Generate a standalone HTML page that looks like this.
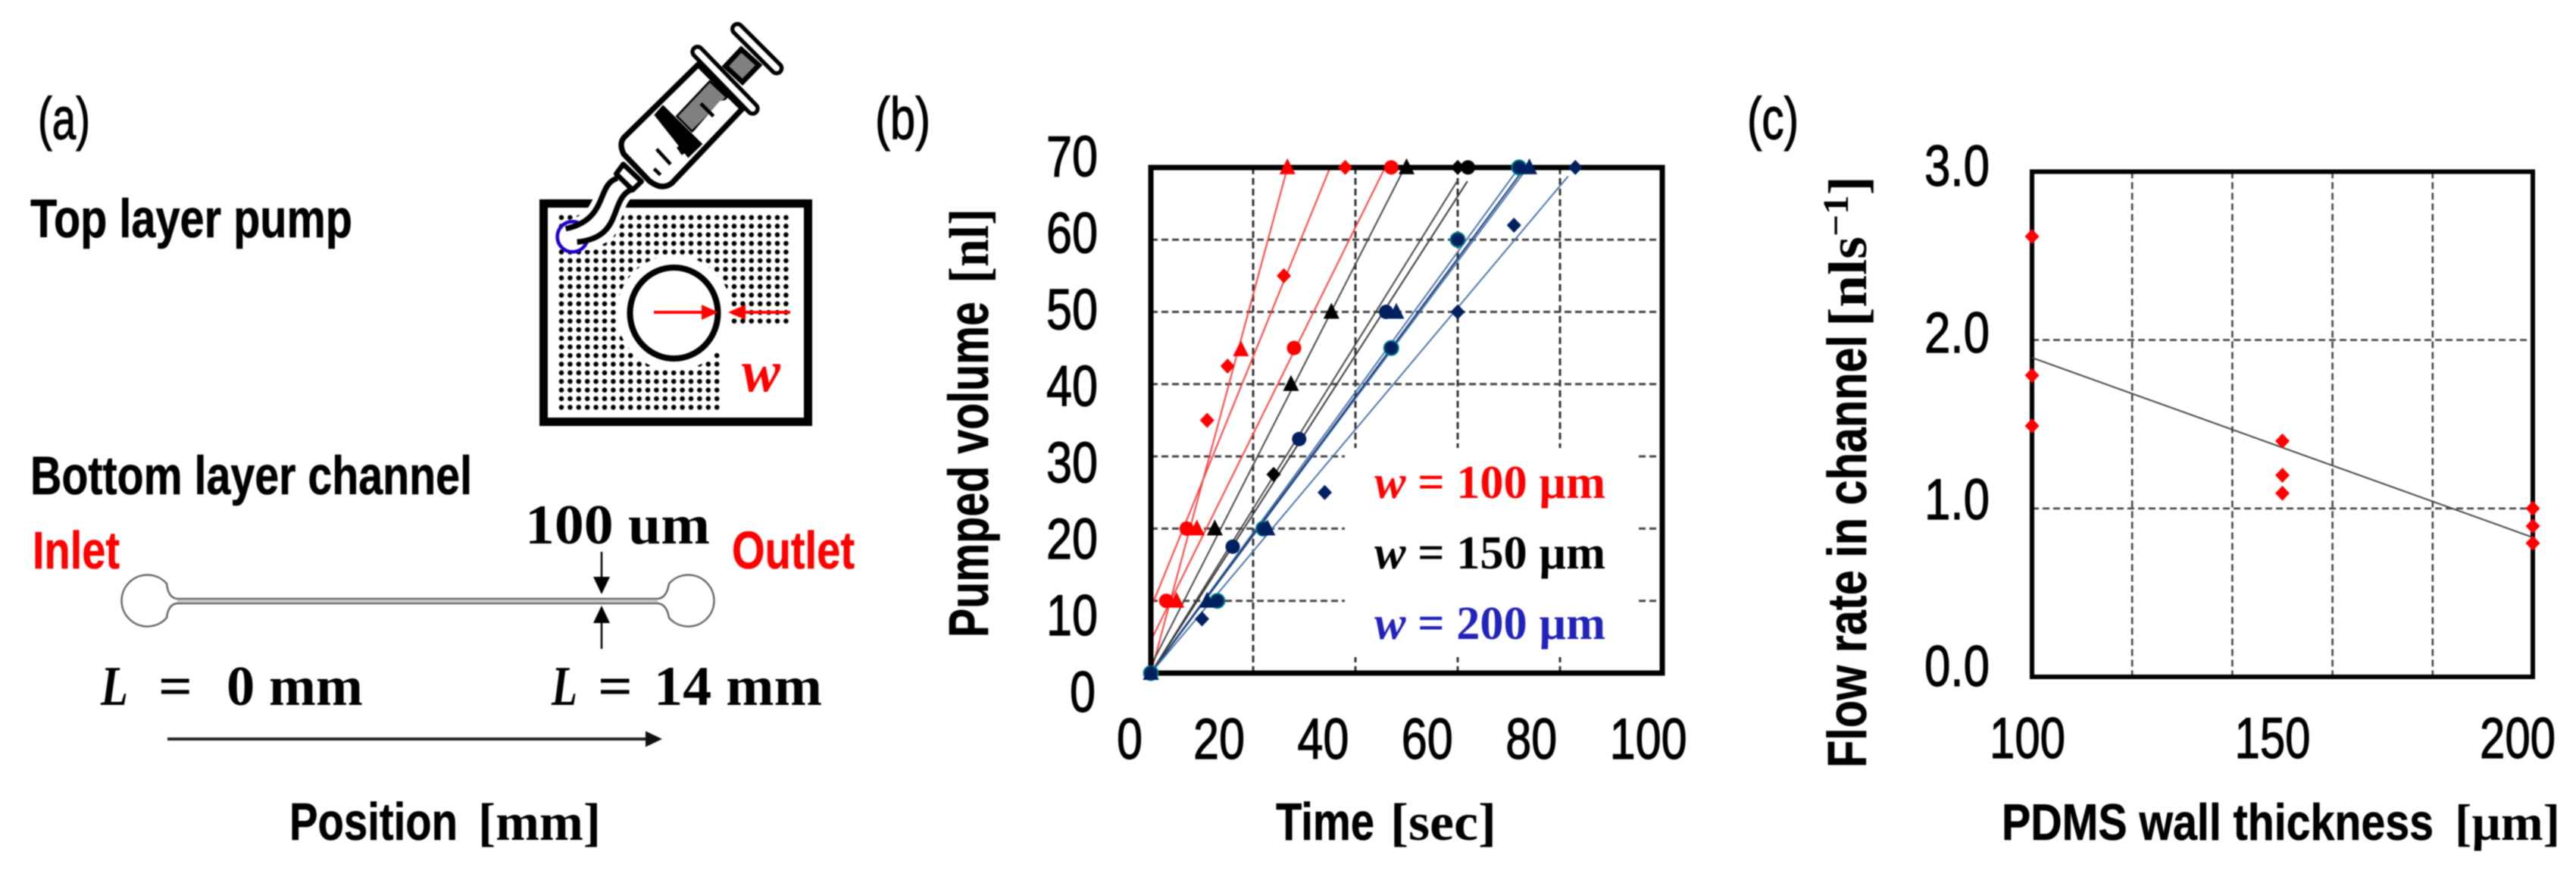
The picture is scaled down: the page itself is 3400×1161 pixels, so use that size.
<!DOCTYPE html>
<html lang="en">
<head>
<meta charset="utf-8">
<title>PDMS pump figure</title>
<style>
html,body{margin:0;padding:0;background:#fff;width:3400px;height:1161px;overflow:hidden}
svg{display:block;filter:blur(0.9px)}
.sb{font-family:"Liberation Sans",sans-serif;font-weight:bold;stroke:currentColor;stroke-width:.6}
.sn{font-family:"Liberation Sans",sans-serif;stroke:#000;stroke-width:1.2}
.rb{font-family:"Liberation Serif",serif;font-weight:bold}
.ri{font-family:"Liberation Serif",serif;font-weight:bold;font-style:italic}
</style>
</head>
<body>
<svg id="fig" xmlns="http://www.w3.org/2000/svg" width="3400" height="1161" viewBox="0 0 3400 1161">
<defs>
<pattern id="dots" patternUnits="userSpaceOnUse" x="735.3" y="281.3" width="11.4" height="11.38">
<circle cx="5.7" cy="5.7" r="3.3" fill="#000"/>
</pattern>
</defs>
<rect width="3400" height="1161" fill="#fff"/>

<!-- PANEL A -->
<g>
<text class="sn" x="50" y="183" font-size="78" textLength="69" lengthAdjust="spacingAndGlyphs">(a)</text>
<text class="sb" x="40" y="313" font-size="71" textLength="425" lengthAdjust="spacingAndGlyphs">Top layer pump</text>

<g>
<rect x="735" y="281" width="308" height="263" fill="url(#dots)"/>
<circle cx="890" cy="413" r="76" fill="#fff"/>
<rect x="951" y="431" width="95" height="115" fill="#fff"/>
<rect x="717.5" y="268.5" width="349" height="288" fill="none" stroke="#000" stroke-width="11"/>
<ellipse cx="889.5" cy="413" rx="58" ry="60" fill="#fff" stroke="#000" stroke-width="8"/>
<line x1="863" y1="412" x2="930" y2="412" stroke="#ff0000" stroke-width="4"/>
<polygon points="948,412 926,402 926,422" fill="#ff0000"/>
<line x1="980" y1="412" x2="1043" y2="412" stroke="#ff0000" stroke-width="4"/>
<polygon points="961,412 984,402 984,422" fill="#ff0000"/>
<text class="ri" x="979" y="516" font-size="78" fill="#ff0000" textLength="51" lengthAdjust="spacingAndGlyphs">w</text>
</g>

<g transform="translate(700,0) scale(0.33333)">
<polygon points="190,880 362,880 322,950 235,990 170,990" fill="#fff"/>
<path d="M345 705 C260 730 310 870 140 905" fill="none" stroke="#fff" stroke-width="60"/>
<path d="M400 750 C310 790 370 940 185 958" fill="none" stroke="#fff" stroke-width="60"/>
<circle cx="167" cy="937" r="60" fill="#fff" stroke="#2200cc" stroke-width="14"/>
<path d="M345 705 C260 730 310 870 140 905 L185 958 C370 940 310 790 400 750 Z" fill="#fff"/>
<path d="M345 705 C260 730 310 870 140 905" fill="none" stroke="#000" stroke-width="22"/>
<path d="M400 750 C310 790 370 940 185 958" fill="none" stroke="#000" stroke-width="22"/>
<polygon points="368,650 440,718 405,752 340,688" fill="#fff" stroke="#000" stroke-width="20" stroke-linejoin="round"/>
<polygon points="835,195 905,258 840,325 772,262" fill="#808080" stroke="#000" stroke-width="20"/>
<path d="M665 255 L370 545 Q350 570 370 610 L470 715 Q520 755 560 725 L840 430 Z" fill="#fff" stroke="#000" stroke-width="22" stroke-linejoin="round"/>
<polygon points="580,460 710,322 778,385 640,520" fill="#808080" stroke="#000" stroke-width="8"/>
<polygon points="750,400 778,395 800,420 690,540 655,510" fill="#fff"/>
<line x1="675" y1="410" x2="725" y2="460" stroke="#000" stroke-width="14"/>
<polygon points="490,455 525,415 682,570 625,625" fill="#000"/>
<line x1="500" y1="590" x2="555" y2="650" stroke="#000" stroke-width="14"/>
<line x1="490" y1="668" x2="515" y2="692" stroke="#000" stroke-width="14"/>
<line x1="585" y1="580" x2="605" y2="610" stroke="#000" stroke-width="14"/>
<line x1="820" y1="115" x2="975" y2="270" stroke="#000" stroke-width="56" stroke-linecap="round"/>
<line x1="820" y1="115" x2="975" y2="270" stroke="#fff" stroke-width="24" stroke-linecap="round"/>
<line x1="662" y1="205" x2="880" y2="430" stroke="#000" stroke-width="56" stroke-linecap="round"/>
<line x1="662" y1="205" x2="880" y2="430" stroke="#fff" stroke-width="24" stroke-linecap="round"/>
</g>

<text class="sb" x="40" y="652" font-size="71" textLength="583" lengthAdjust="spacingAndGlyphs">Bottom layer channel</text>
<text class="sb" x="43" y="750" font-size="70" fill="#ff0000" color="#ff0000" textLength="115" lengthAdjust="spacingAndGlyphs">Inlet</text>
<text class="sb" x="966" y="750" font-size="70" fill="#ff0000" color="#ff0000" textLength="162" lengthAdjust="spacingAndGlyphs">Outlet</text>
<text class="rb" x="693" y="717" font-size="74" textLength="244" lengthAdjust="spacingAndGlyphs">100 um</text>

<g fill="none" stroke="#666" stroke-width="2.5">
<path d="M234 790 L868 790 Q880 789 883 770 A34 34 0 1 1 883 815 Q880 797 868 796 L234 796 Q222 797 220 815 A34 34 0 1 1 220 770 Q222 789 234 790 Z"/>
<line x1="234" y1="793" x2="868" y2="793" stroke="#bbb" stroke-width="2"/>
</g>

<line x1="794" y1="728" x2="794" y2="765" stroke="#000" stroke-width="2.5"/>
<polygon points="794,784 783,761 805,761" fill="#000"/>
<line x1="794" y1="856" x2="794" y2="818" stroke="#000" stroke-width="2.5"/>
<polygon points="794,799 783,822 805,822" fill="#000"/>

<text class="ri" x="133" y="930" font-size="74" textLength="36" lengthAdjust="spacingAndGlyphs">L</text>
<text class="rb" x="209" y="930" font-size="74" textLength="45" lengthAdjust="spacingAndGlyphs">=</text>
<text class="rb" x="299" y="930" font-size="74" textLength="180" lengthAdjust="spacingAndGlyphs">0 mm</text>
<text class="ri" x="728" y="930" font-size="74" textLength="34" lengthAdjust="spacingAndGlyphs">L</text>
<text class="rb" x="789" y="930" font-size="74" textLength="46" lengthAdjust="spacingAndGlyphs">=</text>
<text class="rb" x="863" y="930" font-size="74" textLength="222" lengthAdjust="spacingAndGlyphs">14 mm</text>

<line x1="221" y1="975" x2="856" y2="975" stroke="#222" stroke-width="4"/>
<polygon points="874,975 852,964.5 852,985.5" fill="#111"/>
<text class="sb" x="382" y="1108" font-size="70" textLength="222" lengthAdjust="spacingAndGlyphs">Position</text>
<text class="rb" x="631" y="1108" font-size="70" textLength="162" lengthAdjust="spacingAndGlyphs">[mm]</text>
</g>

<!-- PANEL B -->
<g id="panelB">
<text class="sn" x="1155" y="183" font-size="78" textLength="73" lengthAdjust="spacingAndGlyphs">(b)</text>
<text class="sb" transform="translate(1304,841) rotate(-90)" x="0" y="0" font-size="74" textLength="443" lengthAdjust="spacingAndGlyphs">Pumped volume</text>
<text class="rb" transform="translate(1304,374) rotate(-90)" x="0" y="0" font-size="74" textLength="99" lengthAdjust="spacingAndGlyphs">[nl]</text>
<text class="sb" x="1684" y="1108" font-size="70" textLength="130" lengthAdjust="spacingAndGlyphs">Time</text>
<text class="rb" x="1835" y="1108" font-size="70" textLength="140" lengthAdjust="spacingAndGlyphs">[sec]</text>
<g id="bGrid"></g>
<rect x="1775" y="591" width="383" height="276" fill="#fff"/>
<g id="bLines"></g>
<rect x="1519" y="221" width="675" height="667" fill="none" stroke="#000" stroke-width="7"/>
<g id="bMarks"></g>
<g id="bTicks"></g>
<text class="rb" x="1814" y="657" font-size="62" fill="#ff0000" textLength="305" lengthAdjust="spacingAndGlyphs"><tspan class="ri">w</tspan> = 100 µm</text>
<text class="rb" x="1814" y="750" font-size="62" fill="#000" textLength="305" lengthAdjust="spacingAndGlyphs"><tspan class="ri">w</tspan> = 150 µm</text>
<text class="rb" x="1814" y="843" font-size="62" fill="#2222bb" textLength="305" lengthAdjust="spacingAndGlyphs"><tspan class="ri">w</tspan> = 200 µm</text>
</g>

<!-- PANEL C -->
<g id="panelC">
<text class="sn" x="2306" y="183" font-size="78" textLength="68" lengthAdjust="spacingAndGlyphs">(c)</text>
<text class="sb" transform="translate(2463,1013) rotate(-90)" x="0" y="0" font-size="72" textLength="571" lengthAdjust="spacingAndGlyphs">Flow rate in channel</text>
<text class="rb" transform="translate(2463,431) rotate(-90)" x="0" y="0" font-size="72" textLength="199" lengthAdjust="spacingAndGlyphs">[nls<tspan dy="-24" font-size="48">−1</tspan><tspan dy="24">]</tspan></text>
<text class="sb" x="2642" y="1108" font-size="68" textLength="570" lengthAdjust="spacingAndGlyphs">PDMS wall thickness</text>
<text class="rb" x="3240" y="1108" font-size="68" textLength="139" lengthAdjust="spacingAndGlyphs">[µm]</text>
<g id="cGrid"></g>
<rect x="2682" y="226.5" width="661" height="666.5" fill="none" stroke="#000" stroke-width="6"/>
<g id="cLines"></g>
<g id="cMarks"></g>
<g id="cTicks"></g>
</g>
</svg>

<script>
// ---- Panel (b) data ----
const timeTicks = [0, 20, 40, 60, 80, 100];
const volumeTicks = [0, 10, 20, 30, 40, 50, 60, 70];
const timeGrid = [20, 40, 60, 80];
const volumeGrid = [10, 20, 30, 40, 50, 60];

const redTriangleTime = [0, 5, 9, 17.6, 26.7];
const redTriangleVolume = [0, 10, 20, 44.8, 70];
const redDiamondTime = [0, 11, 15, 26, 38];
const redDiamondVolume = [0, 35, 42.5, 55, 70];
const redCircleTime = [0, 3, 7, 28, 47];
const redCircleVolume = [0, 10, 20, 45, 70];
const blackTriangleTime = [0, 12.5, 27.4, 35.3, 50];
const blackTriangleVolume = [0, 20, 40, 50, 70];
const blackDiamondTime = [0, 24, 60];
const blackDiamondVolume = [0, 27.5, 70];
const blackCircleTime = [62];
const blackCircleVolume = [70];
const navyCircleTime = [16, 29, 46];
const navyCircleVolume = [17.5, 32.4, 50];
const blueCircleTime = [0, 13, 22, 47, 60, 72];
const blueCircleVolume = [0, 10, 20, 45, 60, 70];
const blueTriangleTime = [0, 11, 22.8, 48, 74];
const blueTriangleVolume = [0, 10, 20, 50, 70];
const blueDiamondTime = [0, 10, 34, 60, 71, 83];
const blueDiamondVolume = [0, 7.5, 25, 50, 62, 70];

// fit lines: intercept, slope, end time
const redTriangleFit = [0, 2.62, 26.7];
const redDiamondFit = [9, 1.74, 35.1];
const redCircleFit = [4.5, 1.43, 45.8];
const blackTriangleFit = [1, 1.39, 49];
const blackDiamondFit = [0, 1.137, 60];
const blackCircleFit = [0, 1.1, 61.9];
const blueCircleFit = [0, 0.972, 72];
const blueDarkFit = [0, 0.957, 72.5];
const blueTriangleFit = [0, 0.95, 73.5];
const blueDiamondFit = [0, 0.843, 81.6];

// ---- Panel (c) data ----
const thicknessTicks = [100, 150, 200];
const flowTicks = [0, 1, 2, 3];
const thicknessGrid = [120, 140, 160, 180];
const flowGrid = [1, 2];
const thicknessValues = [100, 100, 100, 150, 150, 150, 200, 200, 200];
const flowValues = [2.615, 1.79, 1.49, 1.4, 1.197, 1.09, 1.0, 0.895, 0.794];
const flowFit = [100, 1.895, 200, 0.828];

const NS = 'http://www.w3.org/2000/svg';
const xB = t => 1519 + t * 6.75;
const yB = v => 888 - v * 9.53;
const xC = w => 2682 + (w - 100) * 6.61;
const yC = f => 893 - f * 222.2;
const yBLabel = v => 939 - v * 10.09;
const xBLabel = t => t === 0 ? 1474 : 1575 + (t - 20) * 6.87;
const yCLabel = f => 905 - f * 220;
const xCLabel = w => 2676 + (w - 100) * 6.47;

function make(tag, parent, props) {
  const el = document.createElementNS(NS, tag);
  for (const k in props) el.setAttribute(k, props[k]);
  parent.appendChild(el);
  return el;
}

function gridLine(parent, x1, y1, x2, y2, color, width, dash, name) {
  const el = make('line', parent, {x1: x1, y1: y1, x2: x2, y2: y2, stroke: color, 'stroke-width': width, 'stroke-dasharray': dash});
  
  
}

function fitLine(parent, x1, y1, x2, y2, color, name) {
  const el = make('line', parent, {x1: x1, y1: y1, x2: x2, y2: y2, stroke: color, 'stroke-width': 2});
  
  
}

function marker(parent, shape, cx, cy, fill, edge, name) {
  let el;
  if (shape === 'circle') {
    el = make('circle', parent, {cx: cx, cy: cy, r: 9.5, fill: fill});
  } else if (shape === 'triangle') {
    el = make('polygon', parent, {points: (cx) + ',' + (cy - 12) + ' ' + (cx - 10.5) + ',' + (cy + 9) + ' ' + (cx + 10.5) + ',' + (cy + 9), fill: fill});
  } else {
    el = make('polygon', parent, {points: cx + ',' + (cy - 10) + ' ' + (cx + 9.5) + ',' + cy + ' ' + cx + ',' + (cy + 10) + ' ' + (cx - 9.5) + ',' + cy, fill: fill});
  }
  if (edge) {
    el.setAttribute('stroke', edge);
    el.setAttribute('stroke-width', '2');
  }
  
  
}

function tickText(parent, label, x, y, len, name) {
  const el = make('text', parent, {x: x, y: y, 'font-size': 76, textLength: len, lengthAdjust: 'spacingAndGlyphs', 'class': 'sn'});
  el.textContent = label;
  
  
}

// Panel (b)
const bGrid = document.getElementById('bGrid');
const bLines = document.getElementById('bLines');
const bMarks = document.getElementById('bMarks');
const bTicks = document.getElementById('bTicks');

timeGrid.forEach(t => gridLine(bGrid, xB(t), yB(70), xB(t), yB(0), '#333', 3, '9 5', 'time-gridline'));
volumeGrid.forEach(v => gridLine(bGrid, xB(0), yB(v), xB(100), yB(v), '#444', 3, '9 5', 'volume-gridline'));

function drawFit(fit, color, name) {
  fitLine(bLines, xB(0), yB(fit[0]), xB(fit[2]), yB(fit[0] + fit[1] * fit[2]), color, name);
}
drawFit(redTriangleFit, '#ff3b3b', 'fit-red-triangle');
drawFit(redDiamondFit, '#ff3b3b', 'fit-red-diamond');
drawFit(redCircleFit, '#ff3b3b', 'fit-red-circle');
drawFit(blackTriangleFit, '#444', 'fit-black-triangle');
drawFit(blackDiamondFit, '#444', 'fit-black-diamond');
drawFit(blackCircleFit, '#333', 'fit-black-circle');
drawFit(blueCircleFit, '#4a72a8', 'fit-blue-circle');
drawFit(blueTriangleFit, '#4a72a8', 'fit-blue-triangle');
drawFit(blueDarkFit, '#123a7a', 'fit-blue-dark');
drawFit(blueDiamondFit, '#4a72a8', 'fit-blue-diamond');

function drawSeries(times, vols, shape, fill, edge, name) {
  times.forEach((t, i) => marker(bMarks, shape, xB(t), yB(vols[i]), fill, edge, name));
}
drawSeries(redDiamondTime, redDiamondVolume, 'diamond', '#ff0000', null, 'point-red-diamond');
drawSeries(redCircleTime, redCircleVolume, 'circle', '#ff0000', null, 'point-red-circle');
drawSeries(redTriangleTime, redTriangleVolume, 'triangle', '#ff0000', null, 'point-red-triangle');
drawSeries(blackDiamondTime, blackDiamondVolume, 'diamond', '#000', null, 'point-black-diamond');
drawSeries(blackCircleTime, blackCircleVolume, 'circle', '#000', null, 'point-black-circle');
drawSeries(blackTriangleTime, blackTriangleVolume, 'triangle', '#000', null, 'point-black-triangle');
drawSeries(navyCircleTime, navyCircleVolume, 'circle', '#002060', null, 'point-navy-circle');
drawSeries(blueDiamondTime, blueDiamondVolume, 'diamond', '#002060', null, 'point-blue-diamond');
drawSeries(blueCircleTime, blueCircleVolume, 'circle', '#002060', '#00808f', 'point-blue-circle');
drawSeries(blueTriangleTime, blueTriangleVolume, 'triangle', '#002060', null, 'point-blue-triangle');

volumeTicks.forEach(v => {
  const label = String(v);
  const len = label.length * 34;
  tickText(bTicks, label, v === 0 ? 1412 : 1449 - len, yBLabel(v), len, 'volume-tick-label');
});
timeTicks.forEach(t => {
  const label = String(t);
  tickText(bTicks, label, xBLabel(t), 1001, label.length * 34, 'time-tick-label');
});

// Panel (c)
const cGrid = document.getElementById('cGrid');
const cLines = document.getElementById('cLines');
const cMarks = document.getElementById('cMarks');
const cTicks = document.getElementById('cTicks');

thicknessGrid.forEach(w => gridLine(cGrid, xC(w), yC(3), xC(w), yC(0), '#444', 2.6, '9 5', 'thickness-gridline'));
flowGrid.forEach(f => gridLine(cGrid, xC(100), yC(f), xC(200), yC(f), '#444', 2.6, '9 5', 'flow-gridline'));
fitLine(cLines, xC(flowFit[0]), yC(flowFit[1]), xC(flowFit[2]), yC(flowFit[3]), '#444', 'flow-fit-line');
thicknessValues.forEach((w, i) => marker(cMarks, 'diamond', xC(w), yC(flowValues[i]), '#ff0000', null, 'flow-point'));
flowTicks.forEach(f => tickText(cTicks, f.toFixed(1), 2540, yCLabel(f), 86, 'flow-tick-label'));
thicknessTicks.forEach(w => tickText(cTicks, String(w), xCLabel(w) - 50, 1000, 100, 'thickness-tick-label'));
</script>
</body>
</html>
